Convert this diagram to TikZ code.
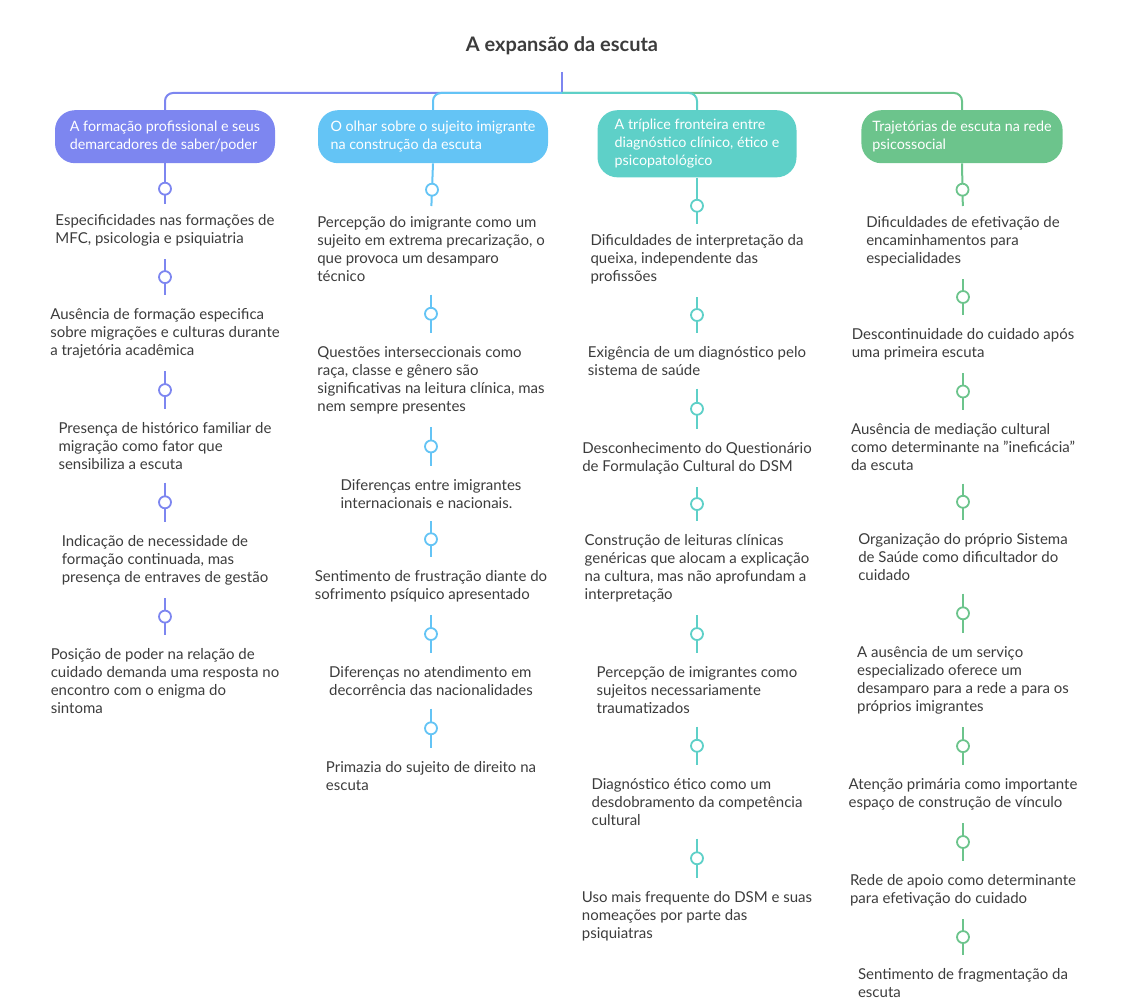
\documentclass[tikz,border=0pt]{standalone}
\usepackage{fontspec}
\setmainfont{Lato}
\definecolor{colA}{RGB}{125,134,240}
\definecolor{colB}{RGB}{100,196,245}
\definecolor{colC}{RGB}{94,208,200}
\definecolor{colD}{RGB}{108,196,140}
\definecolor{ink}{RGB}{60,60,60}
\begin{document}
\begin{tikzpicture}[x=1pt, y=-1pt,
  every node/.style={font=\fontsize{15}{18}\selectfont, text=ink},
  item/.style={align=left, inner sep=0pt, anchor=north},
  head/.style={fill=#1, rounded corners=20pt, text=white, align=left, anchor=north, inner xsep=11pt, inner ysep=9pt, minimum height=53pt, font=\fontsize{14.3}{18}\selectfont},
  link/.style={draw=#1, line width=2pt},
  dot/.style={circle, draw=#1, fill=white, line width=1.8pt, minimum size=12pt, inner sep=0pt}]
	\useasboundingbox (0,0) rectangle (1131,1008);
	\node[font=\bfseries\fontsize{20}{22}\selectfont] (title) at (562,46) {A expansão da escuta};
	\coordinate (stem) at (562,72);
	\coordinate (bus) at (562,93);
	% headers
	\node[head=colA, minimum width=220pt] (hA) at (165,110) {A formação profissional e seus\\demarcadores de saber/poder};
	\node[head=colB, minimum width=230pt] (hB) at (433,110) {O olhar sobre o sujeito imigrante\\na construção da escuta};
	\node[head=colC, minimum width=199pt] (hC) at (697,110) {A tríplice fronteira entre\\diagnóstico clínico, ético e\\psicopatológico};
	\node[head=colD, minimum width=201pt] (hD) at (962,110) {Trajetórias de escuta na rede\\psicossocial};
	\draw[link=colA] (stem) -- (bus);
	\draw[link=colA, rounded corners=8pt] (bus) -| (hA.north);
	\draw[link=colD, rounded corners=8pt] (bus) -| (hD.north);
	\draw[link=colB, rounded corners=8pt] (bus) -| (hB.north);
	\draw[link=colC, rounded corners=8pt] (bus) -| (hC.north);
	% column A
	\node[item] (A1) at (165,214) {Especificidades nas formações de\\MFC, psicologia e psiquiatria};
	\node[item] (A2) at (165,308) {Ausência de formação especifica\\sobre migrações e culturas durante\\a trajetória acadêmica};
	\node[item] (A3) at (165,422) {Presença de histórico familiar de\\migração como fator que\\sensibiliza a escuta};
	\node[item] (A4) at (165,535) {Indicação de necessidade de\\formação continuada, mas\\presença de entraves de gestão};
	\node[item] (A5) at (165,648) {Posição de poder na relação de\\cuidado demanda uma resposta no\\encontro com o enigma do\\sintoma};
	% column B
	\node[item] (B1) at (431,216) {Percepção do imigrante como um\\sujeito em extrema precarização, o\\que provoca um desamparo\\técnico};
	\node[item] (B2) at (431,346) {Questões interseccionais como\\raça, classe e gênero são\\significativas na leitura clínica, mas\\nem sempre presentes};
	\node[item] (B3) at (431,479) {Diferenças entre imigrantes\\internacionais e nacionais.};
	\node[item] (B4) at (431,570) {Sentimento de frustração diante do\\sofrimento psíquico apresentado};
	\node[item] (B5) at (431,666) {Diferenças no atendimento em\\decorrência das nacionalidades};
	\node[item] (B6) at (431,761) {Primazia do sujeito de direito na\\escuta};
	% column C
	\node[item] (C1) at (697,234) {Dificuldades de interpretação da\\queixa, independente das\\profissões};
	\node[item] (C2) at (697,346) {Exigência de um diagnóstico pelo\\sistema de saúde};
	\node[item] (C3) at (697,442) {Desconhecimento do Questionário\\de Formulação Cultural do DSM};
	\node[item] (C4) at (697,534) {Construção de leituras clínicas\\genéricas que alocam a explicação\\na cultura, mas não aprofundam a\\interpretação};
	\node[item] (C5) at (697,666) {Percepção de imigrantes como\\sujeitos necessariamente\\traumatizados};
	\node[item] (C6) at (697,778) {Diagnóstico ético como um\\desdobramento da competência\\cultural};
	\node[item] (C7) at (697,891) {Uso mais frequente do DSM e suas\\nomeações por parte das\\psiquiatras};
	% column D
	\node[item] (D1) at (963,216) {Dificuldades de efetivação de\\encaminhamentos para\\especialidades};
	\node[item] (D2) at (963,328) {Descontinuidade do cuidado após\\uma primeira escuta};
	\node[item] (D3) at (963,423) {Ausência de mediação cultural\\como determinante na "ineficácia"\\da escuta};
	\node[item] (D4) at (963,533) {Organização do próprio Sistema\\de Saúde como dificultador do\\cuidado};
	\node[item] (D5) at (963,646) {A ausência de um serviço\\especializado oferece um\\desamparo para a rede a para os\\próprios imigrantes};
	\node[item] (D6) at (963,778) {Atenção primária como importante\\espaço de construção de vínculo};
	\node[item] (D7) at (963,874) {Rede de apoio como determinante\\para efetivação do cuidado};
	\node[item] (D8) at (963,968) {Sentimento de fragmentação da\\escuta};
	% connectors
	\foreach \c/\n in {A/5, B/6, C/7, D/8} {
		\draw[link=col\c, shorten >=10pt] (h\c.south) -- node[dot=col\c] {} (\c1.north);
		\foreach \i [remember=\i as \j (initially 1)] in {2,...,\n}
			\draw[link=col\c, shorten <=13pt, shorten >=13pt] (\c\j.south) -- node[dot=col\c] {} (\c\i.north);
	}
\end{tikzpicture}
\end{document}
